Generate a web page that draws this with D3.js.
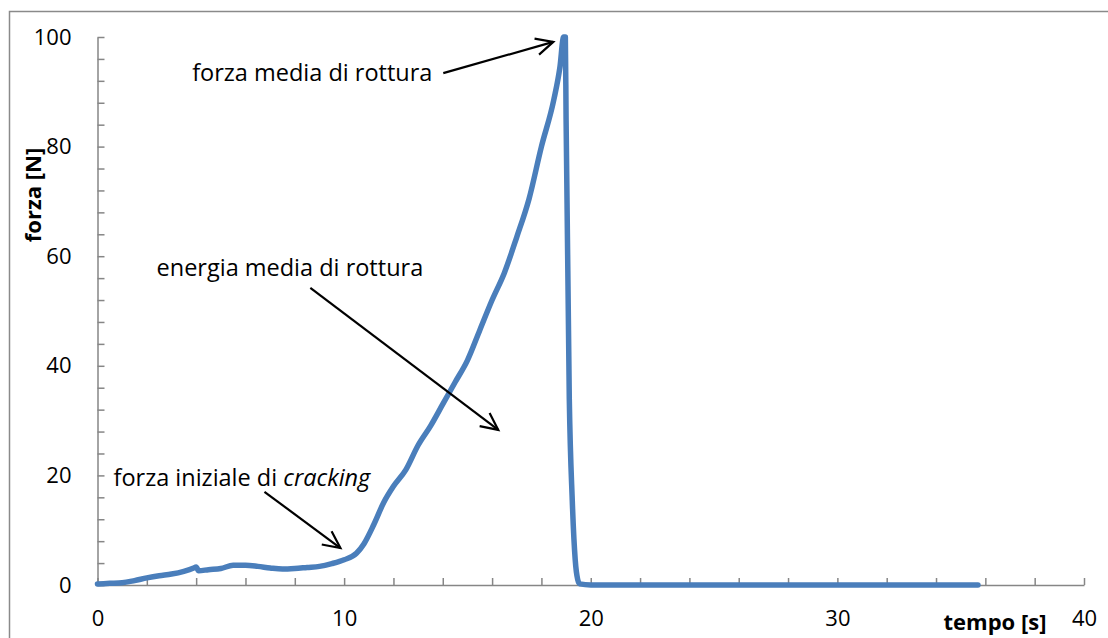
<!DOCTYPE html>
<html lang="it">

<head>
  <meta charset="UTF-8">
  <title>forza - tempo</title>
  <script src="https://d3js.org/d3.v7.min.js"></script>
  <style>
    body { margin: 0; background: #fff; }
    text { font-family: "Open Sans", "Noto Sans", sans-serif; fill: #000; }
    .axis path, .axis line { stroke: #868686; stroke-width: 1.5; }
    .axis text { font-size: 22px; fill: #000; }
  </style>
</head>

<body>
  <div id="chart"></div>
  <script>

    // values
    const tempo = [0, 0.5, 1, 1.5, 2, 2.5, 3, 3.5, 3.9, 4.0, 4.1, 4.5, 5, 5.5, 6, 6.5, 7, 7.5, 8, 8.5, 9, 9.5,
      10, 10.5, 10.8, 11.2, 11.6, 12, 12.5, 13, 13.5, 14, 14.5, 15, 15.5, 16, 16.5, 17, 17.5, 18, 18.5, 18.75,
      18.9, 18.97, 19.0, 19.13, 19.25, 19.37, 19.47, 19.55, 20, 25, 30, 35.7];
    const forza = [0.2, 0.3, 0.4, 0.8, 1.3, 1.7, 2.0, 2.5, 3.1, 3.3, 2.6, 2.8, 3.0, 3.6, 3.6, 3.4, 3.1, 2.9, 3.0, 3.2, 3.4, 3.9,
      4.6, 5.8, 7.5, 11, 15, 18, 21, 25.5, 29, 33, 37, 41, 46.5, 52, 57, 63.5, 70.5, 80, 88.5, 94.5,
      100, 100, 85, 34, 15.5, 4.6, 1, 0.2, 0, 0, 0, 0];

    const xTicks = d3.range(0, 41, 2);
    const yTicks = d3.range(0, 101, 4);
    const xLabels = [0, 10, 20, 30, 40];
    const yLabels = [0, 20, 40, 60, 80, 100];

    // annotations: text anchor and arrow start/end, in data units
    const noteText = ["forza media di rottura", "energia media di rottura", "forza iniziale di "];
    const noteItalic = ["", "", "cracking"];
    const noteAt = [[13.58, 93.4, "end"], [7.8, 57.8, "middle"], [0.65, 19.5, "start"]];
    const arrowFrom = [[14.02, 93.4], [8.63, 54.2], [6.77, 17.0]];
    const arrowTo = [[18.48, 99.1], [16.25, 28.3], [9.85, 6.75]];

    const W = 1108, H = 638;
    const svg = d3.select("#chart").append("svg")
      .attr("width", W).attr("height", H);

    // outer frame
    svg.append("rect")
      .attr("x", 9.5).attr("y", 11.5)
      .attr("width", W + 10).attr("height", H + 10)
      .attr("fill", "none").attr("stroke", "#8a8a8a").attr("stroke-width", 1.5);

    const x = d3.scaleLinear().domain([0, 40]).range([97.5, 1084]);
    const y = d3.scaleLinear().domain([0, 100]).range([585, 37]);

    // X axis, ticks pointing up
    svg.append("g")
      .attr("class", "axis")
      .attr("transform", `translate(0,${y(0)})`)
      .call(d3.axisBottom(x).tickValues(xTicks).tickSize(-7).tickSizeOuter(0).tickPadding(25)
        .tickFormat(d => xLabels.includes(d) ? d : ""));

    // Y axis, ticks pointing right
    svg.append("g")
      .attr("class", "axis")
      .attr("transform", `translate(${x(0)},0)`)
      .call(d3.axisLeft(y).tickValues(yTicks).tickSize(-7).tickSizeOuter(0).tickPadding(26)
        .tickFormat(d => yLabels.includes(d) ? d : ""));

    // axis titles
    svg.append("text")
      .attr("x", 995).attr("y", 630)
      .attr("text-anchor", "middle")
      .attr("font-size", 22).attr("font-weight", "bold")
      .text("tempo [s]");

    svg.append("text")
      .attr("transform", "translate(41,195) rotate(-90)")
      .attr("text-anchor", "middle")
      .attr("font-size", 22).attr("font-weight", "bold")
      .text("forza [N]");

    // the curve
    const data = tempo.map((t, i) => ({ t: t, f: forza[i] }));
    svg.append("path")
      .datum(data)
      .attr("fill", "none")
      .attr("stroke", "#4a7ebb")
      .attr("stroke-width", 5.5)
      .attr("stroke-linejoin", "round")
      .attr("stroke-linecap", "round")
      .attr("d", d3.line()
        .curve(d3.curveMonotoneX)
        .x(d => x(d.t))
        .y(d => y(d.f))
      );

    // annotation texts
    noteText.forEach((s, i) => {
      const t = svg.append("text")
        .attr("x", x(noteAt[i][0])).attr("y", y(noteAt[i][1]))
        .attr("dy", "0.35em")
        .attr("text-anchor", noteAt[i][2])
        .attr("font-size", 23.5)
        .text(s);
      if (noteItalic[i]) t.append("tspan").attr("font-style", "italic").text(noteItalic[i]);
    });

    // arrows with open heads
    arrowFrom.forEach((a, i) => {
      const x1 = x(a[0]), y1 = y(a[1]), x2 = x(arrowTo[i][0]), y2 = y(arrowTo[i][1]);
      const ang = Math.atan2(y2 - y1, x2 - x1);
      const len = 19, spread = 0.45;
      const w1 = [x2 - len * Math.cos(ang - spread), y2 - len * Math.sin(ang - spread)];
      const w2 = [x2 - len * Math.cos(ang + spread), y2 - len * Math.sin(ang + spread)];
      const g = svg.append("g")
        .attr("fill", "none").attr("stroke", "#000").attr("stroke-width", 2.2);
      g.append("line").attr("x1", x1).attr("y1", y1).attr("x2", x2).attr("y2", y2);
      g.append("path").attr("d", `M${w1}L${x2},${y2}L${w2}`);
    });

  </script>
</body>

</html>
